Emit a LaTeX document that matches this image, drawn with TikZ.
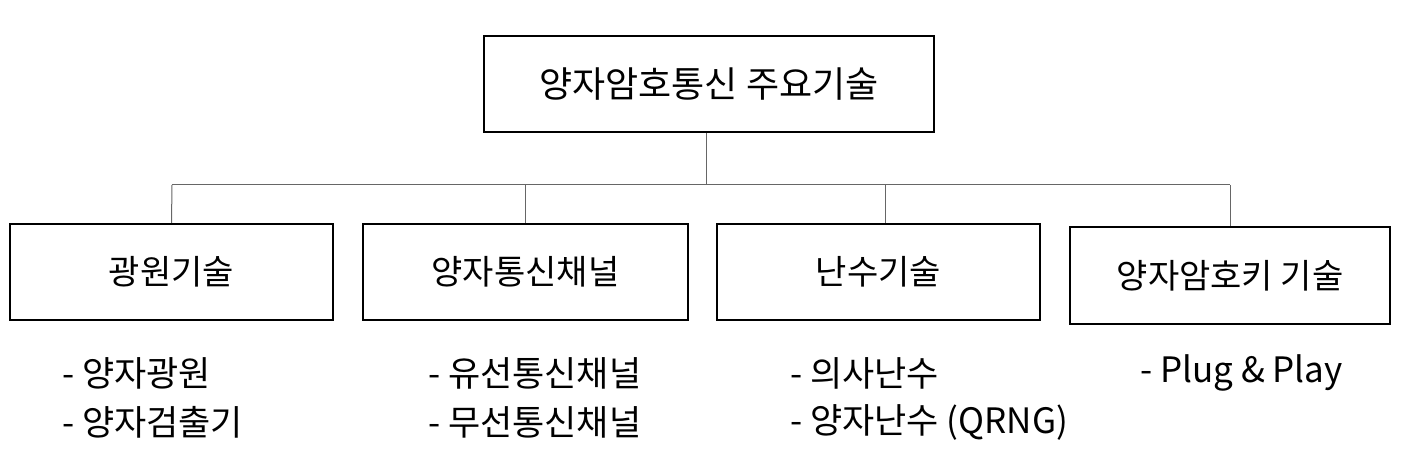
\documentclass[tikz,border=0pt]{standalone}
\usepackage{fontspec}
\setmainfont{Noto Sans CJK KR}
\begin{document}
\begin{tikzpicture}[x=1pt,y=-1pt,
  box/.style={draw=black,line width=2pt,minimum height=96pt,inner sep=0pt,font=\fontsize{34}{40}\selectfont},
  conn/.style={draw=black!60,line width=1pt},
  item/.style={anchor=west,inner sep=0pt,font=\fontsize{35}{40}\selectfont}]
\useasboundingbox (0,0) rectangle (1401,465);
\node[box,minimum width=450pt,font=\fontsize{36}{42}\selectfont] (top) at (709,84) {양자암호통신 주요기술};
\node[box,minimum width=323pt] (b1) at (171.5,272) {광원기술};
\node[box,minimum width=325pt] (b2) at (525.5,272) {양자통신채널};
\node[box,minimum width=323pt] (b3) at (878.5,272) {난수기술};
\node[box,minimum width=320pt] (b4) at (1230,275.5) {양자암호키 기술};
\coordinate (hb) at (706,185);
\coordinate (hl) at (172,185);
\coordinate (hr) at (1230,185);
\draw[conn] (top.south -| hb) -- (hb);
\draw[conn] (hl) -- (hr);
\draw[conn] (hl) -- (b1.north);
\draw[conn] (hl -| b2.north) -- (b2.north);
\draw[conn] (885,185) -- (b3.north -| 885,0);
\draw[conn] (hr) -- (b4.north);
\node[item] (i1) at (62,373) {-\ 양자광원};
\node[item] (i2) at (62,422) {-\ 양자검출기};
\node[item] (i3) at (428,373) {-\ 유선통신채널};
\node[item] (i4) at (428,422) {-\ 무선통신채널};
\node[item] (i5) at (790,373) {-\ 의사난수};
\node[item] (i6) at (790,422) {-\ 양자난수 (QRNG)};
\node[item] (i7) at (1140,373) {-\ Plug \& Play};
\end{tikzpicture}
\end{document}
